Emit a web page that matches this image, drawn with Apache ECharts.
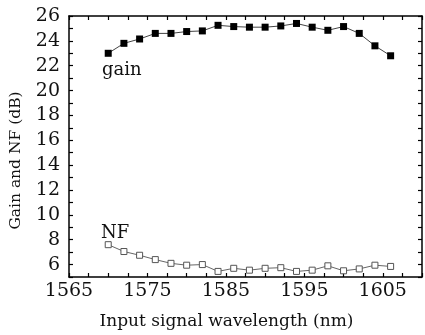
<!DOCTYPE html>
<html>
<head>
<meta charset="utf-8">
<script src="https://cdn.jsdelivr.net/npm/echarts@6/dist/echarts.min.js"></script>
<style>
  html, body { margin: 0; padding: 0; background: #fff; }
  #chart { width: 425px; height: 335px; }
</style>
</head>
<body>
<div id="chart"></div>
<script>
// wavelengths (nm)
const wavelengths = [1570, 1572, 1574, 1576, 1578, 1580, 1582, 1584, 1586, 1588,
                     1590, 1592, 1594, 1596, 1598, 1600, 1602, 1604, 1606];
// gain (dB)
const gain = [23.0, 23.8, 24.15, 24.6, 24.6, 24.75, 24.8, 25.25, 25.15, 25.1,
              25.1, 25.2, 25.4, 25.1, 24.85, 25.15, 24.6, 23.6, 22.8];
// noise figure (dB)
const nf = [7.6, 7.05, 6.75, 6.4, 6.1, 5.95, 6.0, 5.45, 5.7, 5.55,
            5.7, 5.75, 5.45, 5.55, 5.9, 5.5, 5.65, 5.95, 5.85];
const xTickLabels = [1565, 1575, 1585, 1595, 1605];
const yTickLabels = [6, 8, 10, 12, 14, 16, 18, 20, 22, 24, 26];

const font = 'DejaVu Serif';
const chart = echarts.init(document.getElementById('chart'));

const pair = (xs, ys) => xs.map((x, i) => [x, ys[i]]);

const baseX = {
    type: 'value', min: 1565, max: 1610, interval: 2.5,
    axisLine: { show: true, lineStyle: { color: '#000', width: 1.5 } },
    axisTick: { show: true, inside: true, length: 4, lineStyle: { color: '#000', width: 1.2 } },
    splitLine: { show: false }
};
const baseY = {
    type: 'value', min: 5, max: 26, interval: 1,
    axisLine: { show: true, lineStyle: { color: '#000', width: 1.5 } },
    axisTick: { show: true, inside: true, length: 4, lineStyle: { color: '#000', width: 1.2 } },
    splitLine: { show: false }
};

chart.setOption({
    backgroundColor: '#fff',
    animation: false,
    grid: { left: 69, right: 1, top: 16, bottom: 55 },
    xAxis: [
        Object.assign({}, baseX, {
            position: 'bottom',
            name: 'Input signal wavelength (nm)',
            nameLocation: 'middle',
            nameGap: 36,
            nameTextStyle: { fontFamily: font, fontSize: 17, color: '#111', padding: [0, 38, 0, 0] },
            axisLabel: {
                fontFamily: font, fontSize: 19, color: '#111', margin: 5,
                formatter: v => xTickLabels.includes(v) ? String(v) : ''
            }
        }),
        Object.assign({}, baseX, { position: 'top', axisLabel: { show: false } })
    ],
    yAxis: [
        Object.assign({}, baseY, {
            position: 'left',
            name: 'Gain and NF (dB)',
            nameLocation: 'middle',
            nameGap: 45,
            nameTextStyle: { fontFamily: font, fontSize: 15.5, color: '#111', padding: [0, 28, 0, 0] },
            axisLabel: {
                fontFamily: font, fontSize: 19, color: '#111', margin: 9,
                formatter: v => yTickLabels.includes(v) ? String(v) : ''
            }
        }),
        Object.assign({}, baseY, { position: 'right', axisLabel: { show: false } })
    ],
    series: [
        {
            name: 'gain', type: 'line', xAxisIndex: 0, yAxisIndex: 0,
            data: pair(wavelengths, gain),
            symbol: 'rect', symbolSize: 7,
            itemStyle: { color: '#000', borderWidth: 0 },
            lineStyle: { color: '#444', width: 1 }
        },
        {
            name: 'NF', type: 'line', xAxisIndex: 0, yAxisIndex: 0,
            data: pair(wavelengths, nf),
            symbol: 'rect', symbolSize: 6,
            itemStyle: { color: '#fff', borderColor: '#555', borderWidth: 1 },
            lineStyle: { color: '#666', width: 1 }
        }
    ],
    graphic: [
        { type: 'text', left: 102, top: 61, style: { text: 'gain', font: '18px "DejaVu Serif"', fill: '#111' } },
        { type: 'text', left: 101, top: 224, style: { text: 'NF', font: '18px "DejaVu Serif"', fill: '#111' } }
    ]
});
</script>
</body>
</html>
